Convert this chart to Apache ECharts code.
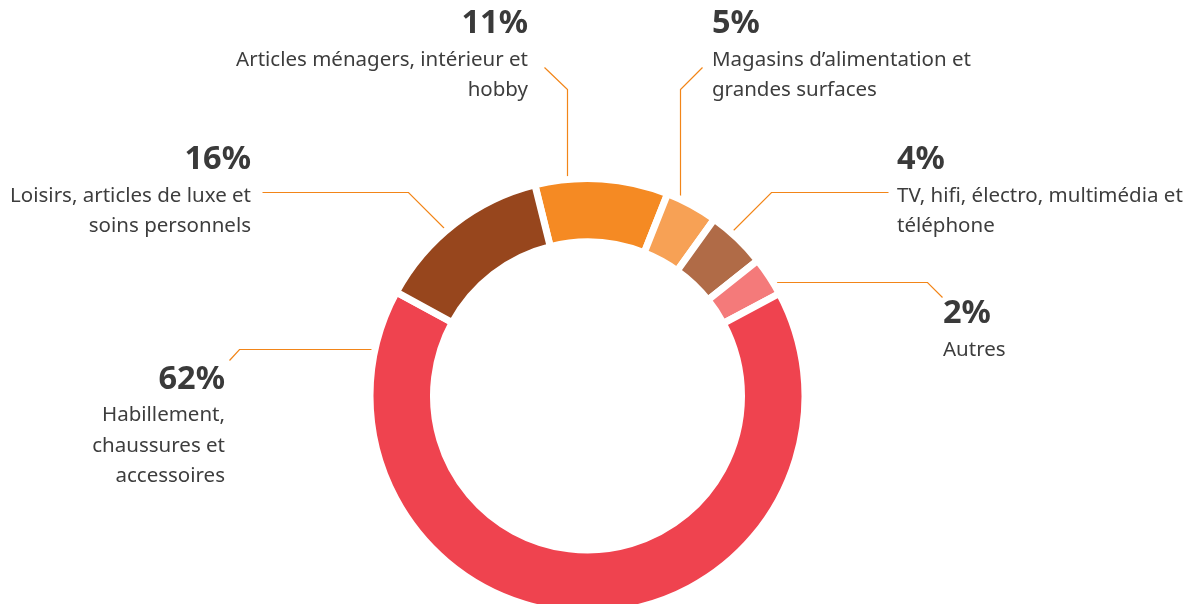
<!DOCTYPE html>
<html>
<head>
<meta charset="utf-8">
<script src="https://cdn.jsdelivr.net/npm/echarts@6/dist/echarts.min.js"></script>
<style>
html,body{margin:0;padding:0;background:#fff;}
#chart{width:1192px;height:604px;}
</style>
</head>
<body>
<div id="chart"></div>
<script>
// Categories in drawing order (clockwise from the top)
const categories = [
  ['Articles ménagers, intérieur et', 'hobby'],
  ['Magasins d’alimentation et', 'grandes surfaces'],
  ['TV, hifi, électro, multimédia et', 'téléphone'],
  ['Autres'],
  ['Habillement,', 'chaussures et', 'accessoires'],
  ['Loisirs, articles de luxe et', 'soins personnels']
];
// Printed percentages
const percentLabels = ['11%', '5%', '4%', '2%', '62%', '16%'];
// Arc shares as drawn in the picture (measured angles, %)
const arcShares = [9.9, 3.9, 4.4, 2.9, 65.8, 13.2];

const colors = ['#F58A23', '#F7A155', '#B06B47', '#F47A7A', '#EF434F', '#97461D'];

// label placement (style only)
const labelPos = [
  {x: 528, y: 3.5,   align: 'right', line: [[567, 183], [567, 89], [544, 67]]},
  {x: 712, y: 3.5,   align: 'left',  line: [[680, 223], [680, 89], [702, 67]]},
  {x: 897, y: 139.5, align: 'left',  line: [[722, 241], [771, 192], [888, 192]]},
  {x: 943, y: 293.5, align: 'left',  line: [[757, 282], [927, 282], [942, 297]]},
  {x: 225, y: 359,   align: 'right', line: [[382, 349], [239, 349], [229, 360]]},
  {x: 251, y: 139.5, align: 'right', line: [[457, 241], [408, 192], [262, 192]]}
];

const FONT = '"Noto Sans", "Source Sans Pro", sans-serif';

const data = categories.map((lines, i) => {
  const a = labelPos[i].align === 'right' ? 'R' : 'L';
  return {
    name: lines.join(' '),
    value: arcShares[i],
    itemStyle: {color: colors[i]},
    label: {
      formatter: '{p' + a + '|' + percentLabels[i] + '}\n' + lines.map(l => '{t' + a + '|' + l + '}').join('\n')
    }
  };
});

const chart = echarts.init(document.getElementById('chart'), null, {renderer: 'canvas'});
chart.setOption({
  backgroundColor: '#ffffff',
  animation: false,
  series: [{
    type: 'pie',
    center: [587.5, 396],
    radius: [154, 217.5],
    startAngle: 104,
    clockwise: true,
    avoidLabelOverlap: false,
    itemStyle: {borderColor: '#ffffff', borderWidth: 7},
    emphasis: {disabled: true},
    label: {
      show: true,
      position: 'outside',
      fontFamily: FONT,
      rich: {
        pR: {fontSize: 32.5, fontWeight: 'bold', color: '#3a3a3a', lineHeight: 41, align: 'right', fontFamily: FONT},
        pL: {fontSize: 32.5, fontWeight: 'bold', color: '#3a3a3a', lineHeight: 41, align: 'left', fontFamily: FONT},
        tR: {fontSize: 20.5, color: '#3d3d3d', lineHeight: 30.5, align: 'right', fontFamily: FONT},
        tL: {fontSize: 20.5, color: '#3d3d3d', lineHeight: 30.5, align: 'left', fontFamily: FONT}
      }
    },
    labelLine: {
      show: true,
      lineStyle: {color: '#F28518', width: 1.2}
    },
    labelLayout: function (params) {
      const p = labelPos[params.dataIndex];
      return {
        x: p.x,
        y: p.y,
        align: p.align,
        verticalAlign: 'top',
        labelLinePoints: p.line.map(pt => [pt[0] + 0.5, pt[1] + 0.5])
      };
    },
    data: data
  }]
});
</script>
</body>
</html>
